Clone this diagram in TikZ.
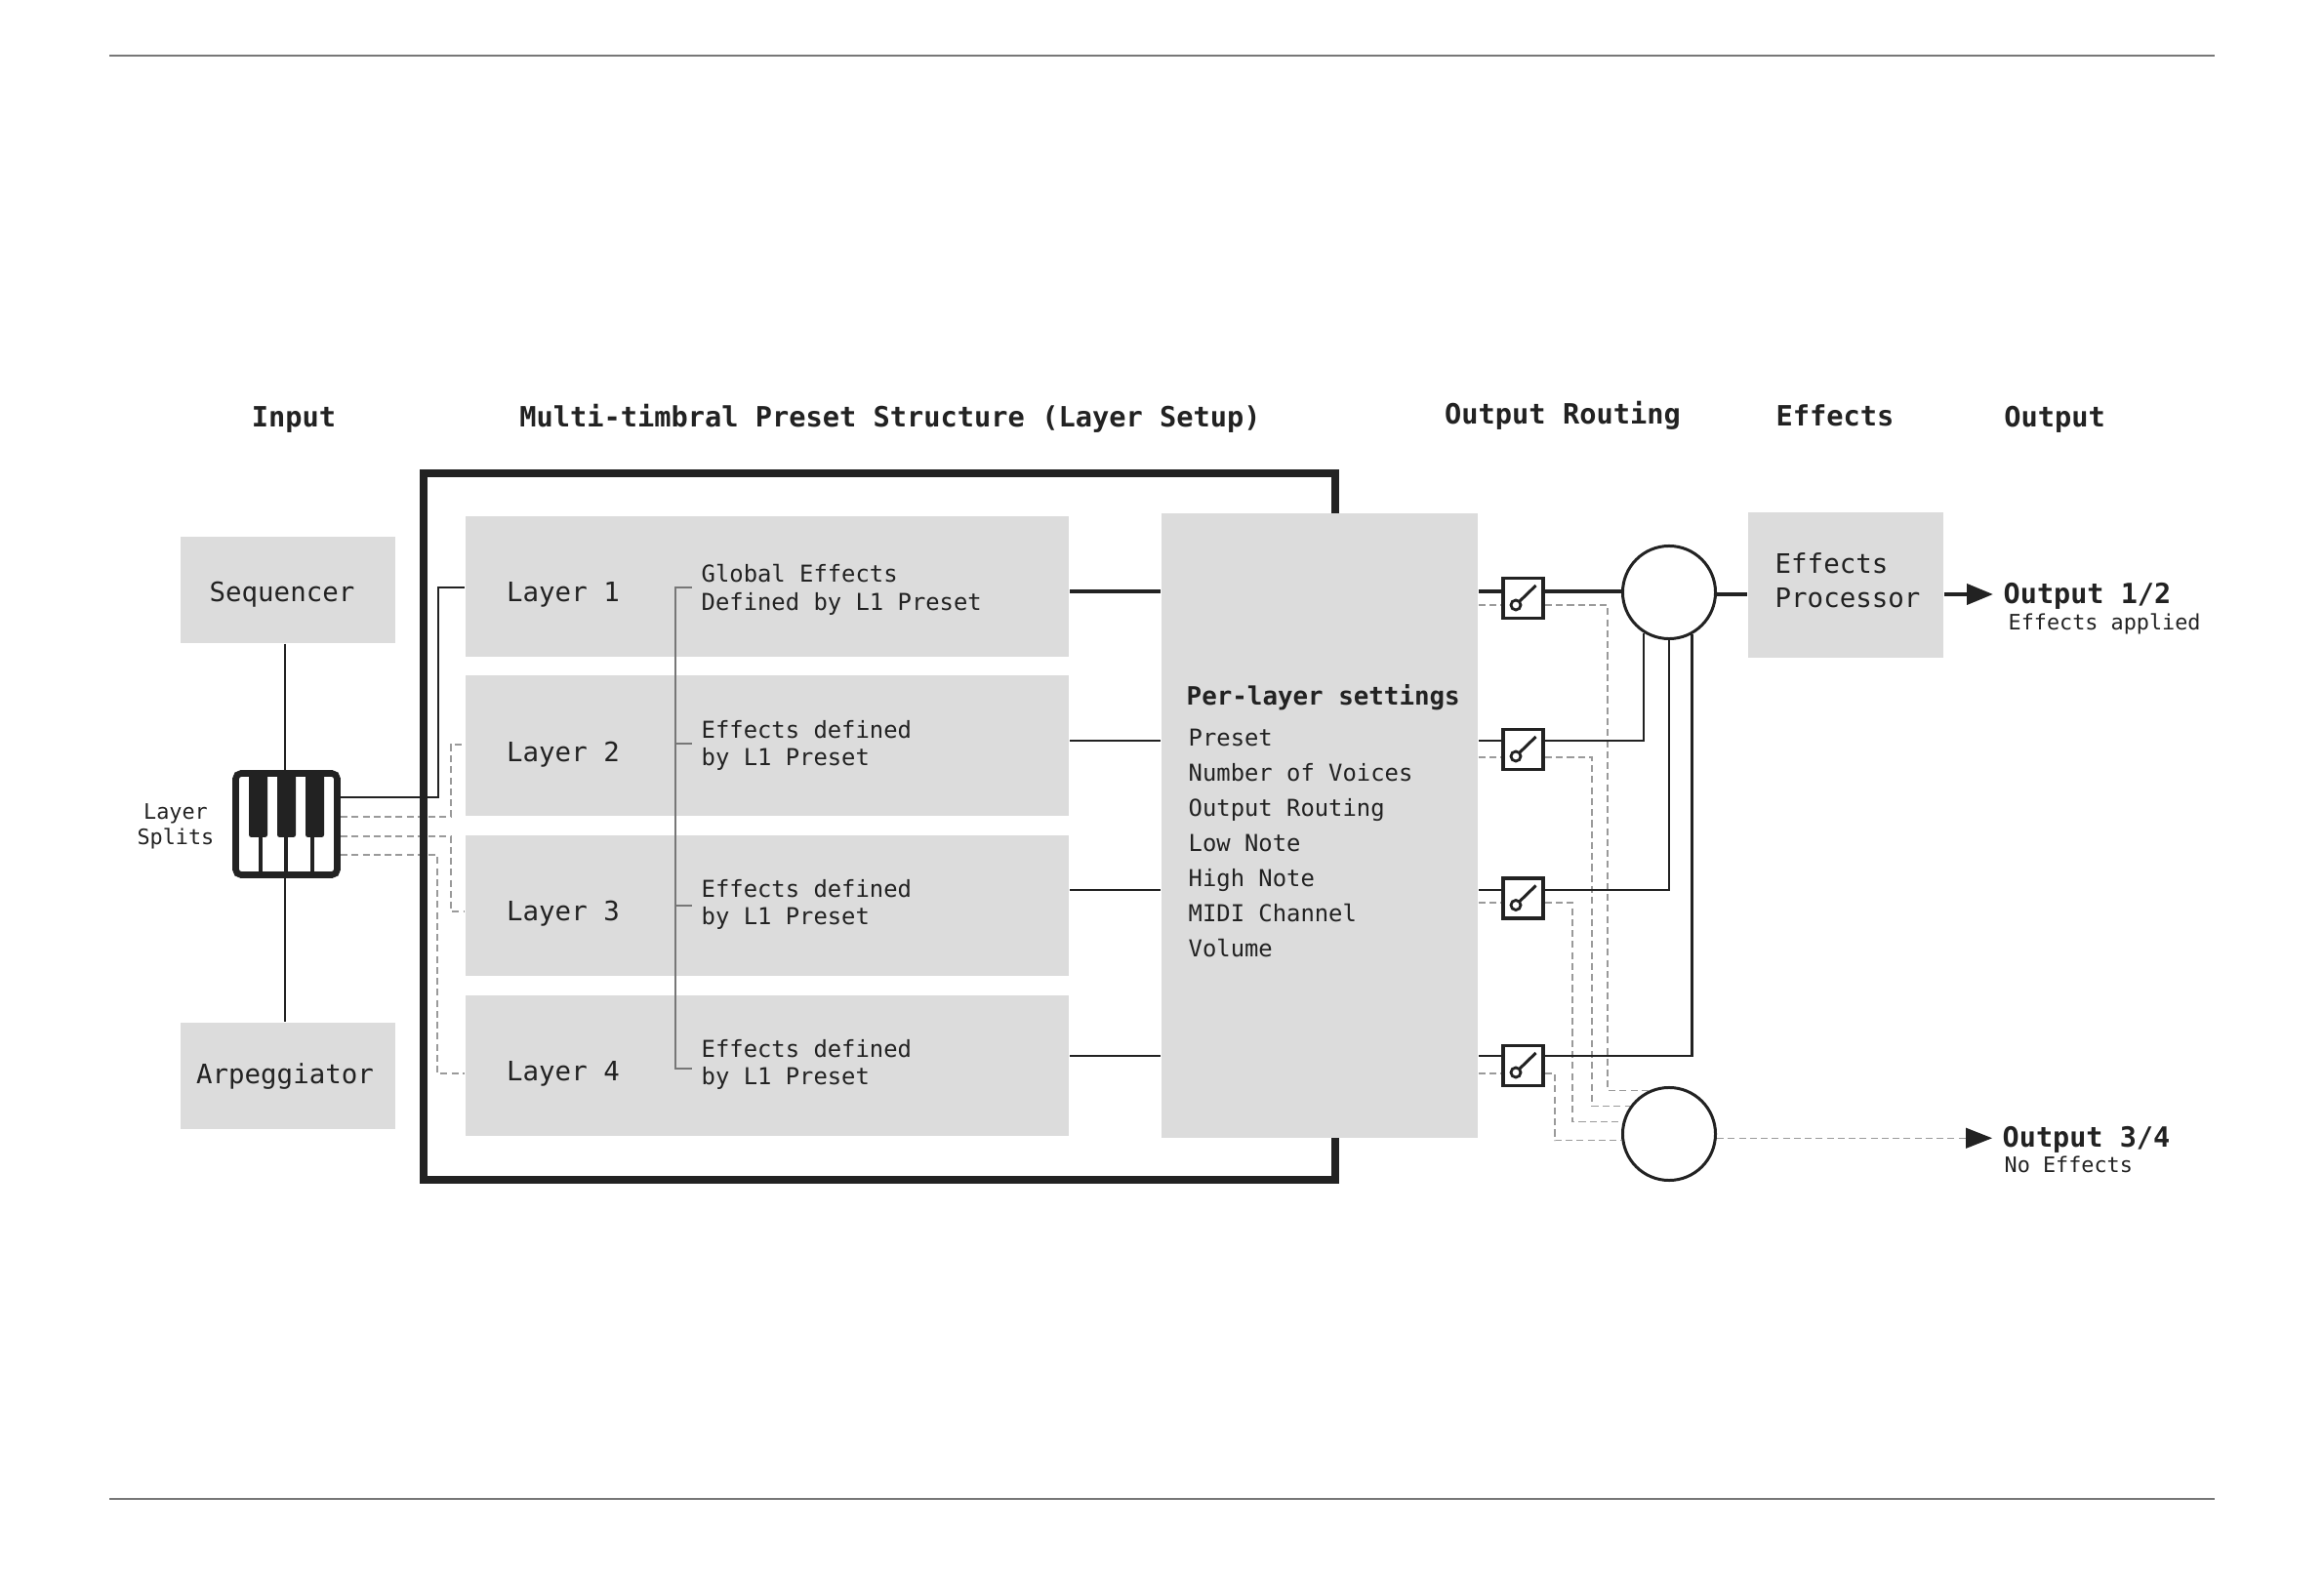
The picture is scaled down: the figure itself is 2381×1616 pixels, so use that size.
\documentclass[tikz,border=0pt]{standalone}
\usepackage{fontspec}
\setmonofont{DejaVu Sans Mono}
\usetikzlibrary{arrows.meta}
\definecolor{ink}{HTML}{222222}
\definecolor{boxgray}{HTML}{DCDCDC}
\definecolor{dashgray}{HTML}{9A9A9A}
\definecolor{rulegray}{HTML}{777777}
\tikzset{>={Triangle[length=2.7mm,width=2.1mm,color=ink]}}
\tikzstyle{graybox} = [rectangle, fill=boxgray, inner sep=0pt]
\tikzstyle{wire} = [draw=ink, line width=0.8pt]
\tikzstyle{thickwire} = [draw=ink, line width=1.15pt]
\tikzstyle{dashwire} = [draw=dashgray, line width=0.33pt, dash pattern=on 2pt off 1.2pt]
\tikzstyle{mixer} = [circle, draw=ink, fill=white, line width=0.85pt, minimum size=0.95cm, inner sep=0pt]
\tikzstyle{switchbox} = [rectangle, draw=ink, fill=white, line width=1.1pt, minimum width=0.41cm, minimum height=0.41cm, inner sep=0pt,
  path picture={\draw [ink, line width=0.8pt] ([shift={(-7.5,7)}]path picture bounding box.center) circle (0.05cm);
  \draw [ink, line width=0.85pt] ([shift={(-4,3.5)}]path picture bounding box.center) -- ([shift={(13,-13)}]path picture bounding box.center);}]
\tikzstyle{heading} = [inner sep=0pt, text=ink, text height=6pt, text depth=1.5pt, font=\ttfamily\bfseries\fontsize{8.15}{10}\selectfont]
\tikzstyle{boxtext} = [inner sep=0pt, text=ink, align=left, font=\ttfamily\fontsize{7.8}{9.8}\selectfont]
\tikzstyle{fxtext} = [inner sep=0pt, text=ink, align=left, anchor=west, font=\ttfamily\fontsize{6.78}{8.2}\selectfont]
\tikzstyle{smalltext} = [inner sep=0pt, text=ink, align=center, font=\ttfamily\fontsize{6.2}{7.5}\selectfont]
\tikzstyle{outtext} = [inner sep=0pt, text=ink, anchor=west, font=\ttfamily\bfseries\fontsize{8.1}{10}\selectfont]

\begin{document}
\begin{tikzpicture}[x=0.01cm, y=-0.01cm]
\useasboundingbox (0, 0) rectangle (2381, 1616);

\coordinate (R1a) at (112, 57);
\coordinate (R1b) at (2269, 57);
\coordinate (R2a) at (112, 1536);
\coordinate (R2b) at (2269, 1536);
\draw [draw=rulegray, line width=0.3pt] (R1a) to (R1b);
\draw [draw=rulegray, line width=0.3pt] (R2a) to (R2b);

\node [heading] (HInput) at (301, 430) {Input};
\node [heading] (HPreset) at (912, 430) {Multi-timbral Preset Structure (Layer Setup)};
\node [heading] (HRouting) at (1601, 427) {Output Routing};
\node [heading] (HEffects) at (1880, 429) {Effects};
\node [heading] (HOutput) at (2105, 430) {Output};

\node [graybox, minimum width=2.2cm, minimum height=1.09cm] (Seq) at (295, 604.5) {};
\node [graybox, minimum width=2.2cm, minimum height=1.09cm] (Arp) at (295, 1102.5) {};
\node [boxtext] (SeqText) at (289, 609) {Sequencer};
\node [boxtext] (ArpText) at (292, 1103) {Arpeggiator};
\node [smalltext] (Splits) at (180, 847) {Layer\\Splits};

\coordinate (KTop) at (292, 789);
\coordinate (KBot) at (292, 900);
\draw [wire] (Seq.south -| KTop) to (KTop);
\draw [wire] (KBot) to (Arp.north -| KBot);
\node [rectangle, draw=ink, fill=white, line width=1.9pt, rounded corners=1.6pt, minimum width=1.04cm, minimum height=1.04cm, inner sep=0pt] (Keys) at (293.5, 844.5) {};
\fill [ink, rounded corners=0.7pt] (255, 792) rectangle (274, 858);
\fill [ink, rounded corners=0.7pt] (284, 792) rectangle (303, 858);
\fill [ink, rounded corners=0.7pt] (313, 792) rectangle (332, 858);
\draw [ink, line width=1.1pt] (267, 858) to (267, 896);
\draw [ink, line width=1.1pt] (293, 858) to (293, 896);
\draw [ink, line width=1.1pt] (320, 858) to (320, 896);

\node [graybox, minimum width=6.18cm, minimum height=1.44cm] (L1) at (786, 601) {};
\node [graybox, minimum width=6.18cm, minimum height=1.44cm] (L2) at (786, 764) {};
\node [graybox, minimum width=6.18cm, minimum height=1.44cm] (L3) at (786, 928) {};
\node [graybox, minimum width=6.18cm, minimum height=1.44cm] (L4) at (786, 1092) {};

\coordinate (KOut1) at (343, 817);
\coordinate (J1) at (449, 602);
\coordinate (KOut2) at (349, 837);
\coordinate (J2) at (462, 763);
\coordinate (KOut3) at (349, 857);
\coordinate (J3) at (462, 934);
\coordinate (KOut4) at (349, 876);
\coordinate (J4) at (448, 1100);
\draw [dashwire] (KOut2) -| (J2) -- (J2 -| L2.west);
\draw [dashwire] (KOut3) -| (J3) -- (J3 -| L3.west);
\draw [dashwire] (KOut4) -| (J4) -- (J4 -| L4.west);
\draw [wire, line width=0.85pt] (KOut1) -| (J1) -- (J1 -| L1.west);

\coordinate (F1) at (434, 485);
\coordinate (F2) at (1368, 1209);
\draw [draw=ink, line width=2pt] (F1) rectangle (F2);

\node [graybox, minimum width=3.24cm, minimum height=6.4cm] (Settings) at (1352, 846) {};
\node [graybox, minimum width=2cm, minimum height=1.49cm] (Fx) at (1891, 599.5) {};

\node [boxtext, anchor=west] (L1Name) at (518.5, 609) {Layer 1};
\node [boxtext, anchor=west] (L2Name) at (518.5, 773) {Layer 2};
\node [boxtext, anchor=west] (L3Name) at (518.5, 936) {Layer 3};
\node [boxtext, anchor=west] (L4Name) at (518.5, 1100) {Layer 4};
\node [fxtext] (L1Fx) at (718, 604) {Global Effects\\Defined by L1 Preset};
\node [fxtext] (L2Fx) at (718, 764) {Effects defined\\by L1 Preset};
\node [fxtext] (L3Fx) at (718, 927) {Effects defined\\by L1 Preset};
\node [fxtext] (L4Fx) at (718, 1091) {Effects defined\\by L1 Preset};

\coordinate (B1) at (692, 602);
\coordinate (B2) at (692, 762);
\coordinate (B3) at (692, 928);
\coordinate (B4) at (692, 1095);
\coordinate (T1) at (709, 602);
\coordinate (T2) at (709, 762);
\coordinate (T3) at (709, 928);
\coordinate (T4) at (709, 1095);
\draw [draw=rulegray, line width=0.4pt] (T1) -- (B1) -- (B4) -- (T4);
\draw [draw=rulegray, line width=0.4pt] (B2) to (T2);
\draw [draw=rulegray, line width=0.4pt] (B3) to (T3);

\node [outtext, font=\ttfamily\bfseries\fontsize{7.35}{9}\selectfont] (SetTitle) at (1215, 715) {Per-layer settings};
\node [fxtext, font=\ttfamily\fontsize{6.78}{10.24}\selectfont] (SetList) at (1217, 864) {Preset\\Number of Voices\\Output Routing\\Low Note\\High Note\\MIDI Channel\\Volume};

\node [boxtext, anchor=west] (FxText) at (1818, 595) {Effects\\Processor};

\node [switchbox] (S1) at (1560.5, 613) {};
\node [switchbox] (S2) at (1560.5, 768) {};
\node [switchbox] (S3) at (1560.5, 920.5) {};
\node [switchbox] (S4) at (1560.5, 1092) {};

\node [mixer] (M1) at (1710, 607) {};
\node [mixer] (M2) at (1710, 1162) {};

\coordinate (W1) at (1600, 606);
\coordinate (W2) at (1685, 759);
\coordinate (W3) at (1710, 912);
\coordinate (W4) at (1733, 1082);
\draw [thickwire] (L1.east |- W1) to (Settings.west |- W1);
\draw [wire] (L2.east |- W2) to (Settings.west |- W2);
\draw [wire] (L3.east |- W3) to (Settings.west |- W3);
\draw [wire] (L4.east |- W4) to (Settings.west |- W4);
\draw [thickwire] (Settings.east |- W1) to (S1.west |- W1);
\draw [thickwire] (S1.east |- W1) to (M1.west |- W1);
\draw [wire] (Settings.east |- W2) to (S2.west |- W2);
\draw [wire] (Settings.east |- W3) to (S3.west |- W3);
\draw [wire] (Settings.east |- W4) to (S4.west |- W4);

\coordinate (D1) at (1647, 620);
\coordinate (D2) at (1631, 776);
\coordinate (D3) at (1611, 925);
\coordinate (D4) at (1593, 1100);
\draw [dashwire] (Settings.east |- D1) to (S1.west |- D1);
\draw [dashwire] (Settings.east |- D2) to (S2.west |- D2);
\draw [dashwire] (Settings.east |- D3) to (S3.west |- D3);
\draw [dashwire] (Settings.east |- D4) to (S4.west |- D4);
\draw [dashwire] (S1.east |- D1) -- (D1) |- (M2.115);
\draw [dashwire] (S2.east |- D2) -- (D2) |- (M2.144);
\draw [dashwire] (S3.east |- D3) -- (D3) |- (M2.165);
\draw [dashwire] (S4.east |- D4) -- (D4) |- (M2.188);

\draw [wire] (S2.east |- W2) -| (M1.238);
\draw [wire] (S3.east |- W3) -| (M1.south);
\draw [wire] (S4.east |- W4) -| (M1.299);

\coordinate (Out1) at (2042, 609);
\coordinate (Out2) at (2041, 1166);
\draw [thickwire] (M1.-2.4) to (M1.-2.4 -| Fx.west);
\draw [thickwire, ->] (Fx.east |- Out1) to (Out1);
\draw [dashwire, ->] (M2.-5 -| M2.east) to (M2.-5 -| Out2);

\node [outtext] (Out12) at (2052, 611) {Output 1/2};
\node [smalltext, anchor=west] (Out12Sub) at (2057, 639) {Effects applied};
\node [outtext] (Out34) at (2051, 1168) {Output 3/4};
\node [smalltext, anchor=west] (Out34Sub) at (2053, 1193.5) {No Effects};
\end{tikzpicture}
\end{document}
